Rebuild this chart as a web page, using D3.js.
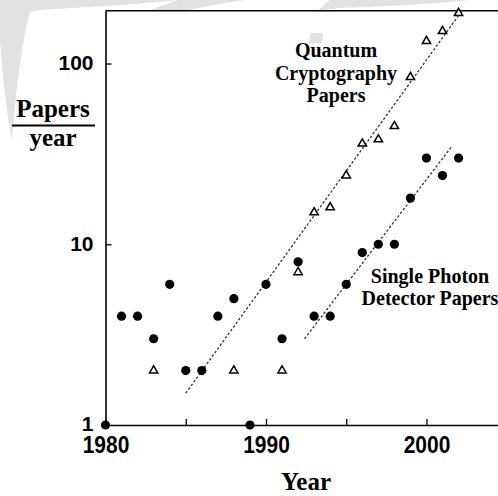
<!DOCTYPE html>
<html>
<head>
<meta charset="utf-8">
<script src="https://cdn.jsdelivr.net/npm/d3@7/dist/d3.min.js"></script>
<style>
  html, body { margin: 0; padding: 0; background: #fff; }
  svg { display: block; }
  .serif { font-family: "Liberation Serif", "Times New Roman", Times, serif; font-weight: bold; fill: #000; }
  .sans { font-family: "Liberation Sans", Arial, Helvetica, sans-serif; font-weight: bold; fill: #000; }
</style>
</head>
<body>
<svg id="chart" width="498" height="496"></svg>
<script>
// Papers per year, log scale
const qcYears   = [1983, 1988, 1991, 1992, 1993, 1994, 1995, 1996, 1997, 1998, 1999, 2000, 2001, 2002];
const qcPapers  = [2, 2, 2, 7, 15, 16, 24, 36, 38, 45, 84, 133, 151, 190];

const spdYears  = [1980, 1981, 1982, 1983, 1984, 1985, 1986, 1987, 1988, 1989, 1990, 1991,
                   1992, 1993, 1994, 1995, 1996, 1997, 1998, 1999, 2000, 2001, 2002];
const spdPapers = [1, 4, 4, 3, 6, 2, 2, 4, 5, 1, 6, 3,
                   8, 4, 4, 6, 9, 10, 10, 18, 30, 24, 30];

// Exponential trend lines (end points)
const qcTrendYears   = [1985, 2002.2];
const qcTrendValues  = [1.5, 195];
const spdTrendYears  = [1992.4, 2001.6];
const spdTrendValues = [3.0, 35];

const xTickValues = [1980, 1985, 1990, 1995, 2000];
const xTickLabels = ["1980", "", "1990", "", "2000"];
const yTickValues = [1, 10, 100];
const yTickLabels = ["1", "10", "100"];

const svg = d3.select("#chart");

const x = d3.scaleLinear().domain([1980, 2004.5]).range([105.5, 498.7]);
const y = d3.scaleLog().domain([1, 196]).range([425, 10.7]);

// faint background marks around the frame
const wm = svg.append("g").attr("fill", "#e2e2e2");
wm.append("path").attr("d",
  "M0,0 L178,0 C140,4 90,7 40,10 L30,12 C22,40 16,90 12,140 C6,110 2,70 0,40 Z");
wm.append("path").attr("d",
  "M178,0 L245,0 C225,3 205,6 190,10 L150,10 C160,6 170,3 178,0 Z");
wm.append("path").attr("d",
  "M330,0 L470,0 C440,3 400,6 340,8 L322,10 L318,10 Z");
const ringClip = svg.append("clipPath").attr("id", "ringClip");
ringClip.append("rect").attr("x", 0).attr("y", 0).attr("width", 498).attr("height", 10.5);
wm.append("path")
  .attr("clip-path", "url(#ringClip)")
  .attr("fill-rule", "evenodd")
  .attr("d", d3.arc()({innerRadius: 37, outerRadius: 50, startAngle: 0, endAngle: 2 * Math.PI}))
  .attr("transform", "translate(273,33)");

// top frame
svg.append("line")
  .attr("x1", x(1980)).attr("x2", 498)
  .attr("y1", y(196)).attr("y2", y(196))
  .attr("stroke", "#000").attr("stroke-width", 1.6);

// x axis
const xAxis = svg.append("g")
  .attr("transform", `translate(0,${y(1)})`)
  .call(d3.axisBottom(x)
    .tickValues(xTickValues)
    .tickFormat((d, i) => xTickLabels[i])
    .tickSizeInner(-6).tickSizeOuter(0).tickPadding(11));
xAxis.select(".domain").attr("stroke-width", 1.6);
xAxis.selectAll(".tick line").attr("stroke-width", 1.3);
xAxis.selectAll(".tick text")
  .attr("class", "sans")
  .attr("font-size", 21)
  .attr("dy", "0.71em")
  .attr("transform", "scale(1,1.1)");

// y axis
const yAxis = svg.append("g")
  .attr("transform", `translate(${x(1980)},0)`)
  .call(d3.axisLeft(y)
    .tickValues(yTickValues)
    .tickFormat((d, i) => yTickLabels[i])
    .tickSizeInner(-6).tickSizeOuter(0).tickPadding(12));
yAxis.select(".domain").attr("stroke-width", 1.6);
yAxis.selectAll(".tick line")
  .attr("stroke-width", 1.3)
  .attr("display", d => d === 1 ? "none" : null);
yAxis.selectAll(".tick text")
  .attr("class", "sans")
  .attr("font-size", 21)
  .attr("dy", "0.28em");

// trend lines
const line = d3.line().x(d => x(d[0])).y(d => y(d[1]));
[[qcTrendYears, qcTrendValues], [spdTrendYears, spdTrendValues]].forEach(([ys, vs]) => {
  svg.append("path")
    .datum(ys.map((yr, i) => [yr, vs[i]]))
    .attr("d", line)
    .attr("fill", "none")
    .attr("stroke", "#333")
    .attr("stroke-width", 1.3)
    .attr("stroke-dasharray", "2.5,2");
});

// single photon detector papers
svg.append("g").selectAll("circle")
  .data(spdYears.map((yr, i) => [yr, spdPapers[i]]))
  .join("circle")
  .attr("cx", d => x(d[0]))
  .attr("cy", d => y(d[1]))
  .attr("r", 4.6)
  .attr("fill", "#000");

// quantum cryptography papers
const tri = d3.symbol().type(d3.symbolTriangle).size(30);
svg.append("g").selectAll("path")
  .data(qcYears.map((yr, i) => [yr, qcPapers[i]]))
  .join("path")
  .attr("d", tri)
  .attr("transform", d => `translate(${x(d[0])},${y(d[1])})`)
  .attr("fill", "#fff")
  .attr("stroke", "#000")
  .attr("stroke-width", 1.5);

// series labels
const qcLabel = svg.append("text").attr("class", "serif").attr("font-size", 20)
  .attr("text-anchor", "middle");
["Quantum", "Cryptography", "Papers"].forEach((t, i) => {
  qcLabel.append("tspan").attr("x", 336).attr("y", 57 + i * 22.5).text(t);
});
const spdLabel = svg.append("text").attr("class", "serif").attr("font-size", 20)
  .attr("text-anchor", "middle");
["Single Photon", "Detector Papers"].forEach((t, i) => {
  spdLabel.append("tspan").attr("x", 430).attr("y", 283 + i * 22).text(t);
});

// axis titles
svg.append("text").attr("class", "serif").attr("font-size", 25)
  .attr("text-anchor", "middle").attr("x", 306).attr("y", 490).text("Year");
svg.append("text").attr("class", "serif").attr("font-size", 25)
  .attr("text-anchor", "middle").attr("x", 53).attr("y", 117).text("Papers");
svg.append("line").attr("x1", 12).attr("x2", 95).attr("y1", 125.5).attr("y2", 125.5)
  .attr("stroke", "#000").attr("stroke-width", 2);
svg.append("text").attr("class", "serif").attr("font-size", 25)
  .attr("text-anchor", "middle").attr("x", 53).attr("y", 146).text("year");
</script>
</body>
</html>
